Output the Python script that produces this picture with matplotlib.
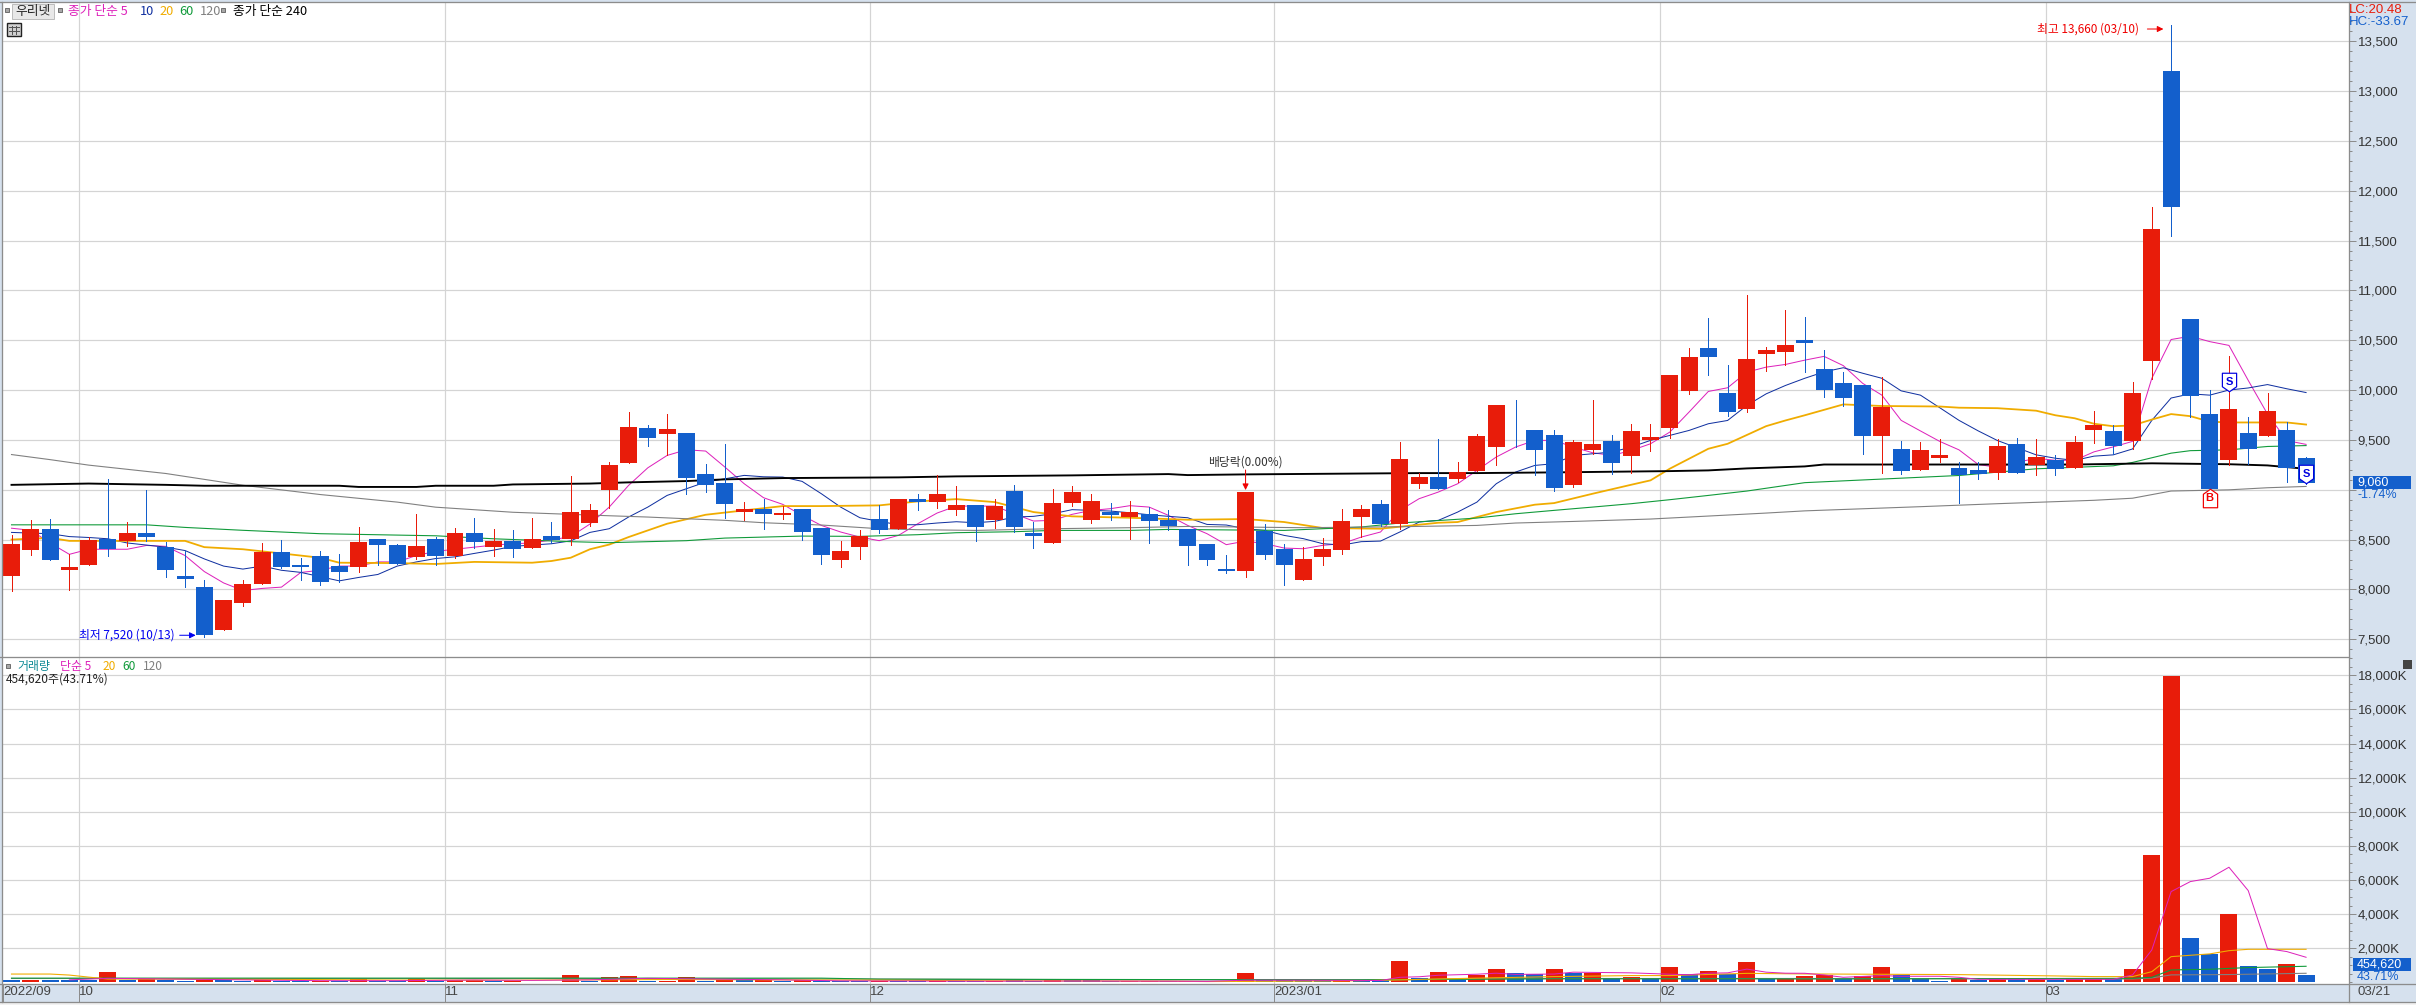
import matplotlib

matplotlib.use("Agg")

import matplotlib.pyplot as plt
from matplotlib.lines import Line2D
from matplotlib.patches import Rectangle
from matplotlib.path import Path
from matplotlib.ticker import FuncFormatter, MultipleLocator

W, H = 2416, 1005
KR = ["Noto Sans CJK KR", "DejaVu Sans"]
NARROW = ["Liberation Sans Narrow", "Liberation Sans", "DejaVu Sans"]
plt.rcParams["font.family"] = KR

RED = "#E81C0A"
BLUE = "#135FCC"
MAGENTA = "#DD22BB"
NAVY = "#1030A0"
ORANGE = "#F0AC00"
GREEN = "#109A3A"
GRAY = "#808080"
GRID = "#D4D4D4"
STRIP = "#D6E1EE"
BORDER = "#8C8C8C"

# candles, 2022/09/27 .. 2023/03/21
candle_side = list(
    "RRBRRBRBBBBRRRBBBBRBBRBRBRBRBRR"
    "RRBRBBBRBRBBRRBRBRRBRBBRRRBRBBB"
    "BBRBBRRRRBRRBRRRBBBRRBRRRRBBRRR"
    "BBBBRBRRBBRBRBRRBRRBBBRBRBB"
)
body_top = [
    8458, 8606, 8606, 8226, 8496, 8504, 8568, 8568, 8424, 8137,
    8023, 7896, 8057, 8378, 8378, 8247, 8335, 8234, 8475, 8504,
    8445, 8437, 8504, 8568, 8568, 8487, 8487, 8504, 8538, 8779,
    8796, 9244, 9625, 9615, 9605, 9565, 9154, 9063, 8803, 8803,
    8763, 8803, 8612, 8382, 8532, 8703, 8903, 8903, 8953, 8843,
    8843, 8833, 8983, 8562, 8863, 8973, 8883, 8773, 8773, 8753,
    8693, 8602, 8459, 8201, 8973, 8582, 8402, 8301, 8402, 8682,
    8803, 8853, 9304, 9124, 9124, 9174, 9535, 9846, 9592, 9595,
    9545, 9475, 9455, 9485, 9585, 9525, 10156, 10327, 10417, 9966,
    10307, 10397, 10447, 10507, 10207, 10068, 10055, 9835, 9405, 9396,
    9350, 9223, 9202, 9434, 9455, 9333, 9295, 9476, 9654, 9586,
    9975, 11613, 13196, 10709, 9755, 9814, 9565, 9785, 9603, 9316,
]
body_bottom = [
    8137, 8394, 8297, 8196, 8247, 8403, 8487, 8525, 8196, 8103,
    7541, 7592, 7862, 8057, 8226, 8221, 8074, 8175, 8226, 8445,
    8255, 8327, 8335, 8331, 8475, 8424, 8407, 8416, 8500, 8504,
    8665, 8993, 9264, 9515, 9555, 9114, 9043, 8853, 8773, 8753,
    8743, 8572, 8342, 8291, 8422, 8592, 8602, 8873, 8873, 8793,
    8622, 8693, 8622, 8532, 8462, 8863, 8693, 8743, 8723, 8683,
    8632, 8432, 8291, 8181, 8181, 8342, 8241, 8091, 8322, 8392,
    8723, 8652, 8652, 9053, 9003, 9104, 9184, 9424, 9585, 9394,
    9013, 9043, 9394, 9264, 9334, 9495, 9615, 9986, 10327, 9775,
    9805, 10357, 10377, 10473, 9996, 9924, 9544, 9544, 9185, 9194,
    9316, 9143, 9156, 9172, 9172, 9244, 9210, 9223, 9595, 9443,
    9485, 10287, 11841, 9945, 9012, 9303, 9405, 9544, 9223, 9067,
]
high = [
    8542, 8698, 8707, 8356, 8530, 9108, 8673, 9002, 8475, 8382,
    8095, 7896, 8095, 8466, 8496, 8314, 8386, 8356, 8627, 8504,
    8458, 8758, 8530, 8618, 8715, 8606, 8597, 8715, 8677, 9138,
    8859, 9274, 9775, 9645, 9755, 9565, 9254, 9455, 8873, 8903,
    8836, 8803, 8612, 8482, 8592, 8843, 8903, 8953, 9144, 9033,
    8843, 8903, 9043, 8672, 9003, 9033, 8953, 8863, 8883, 8823,
    8793, 8602, 8459, 8342, 8973, 8659, 8452, 8422, 8512, 8803,
    8843, 8893, 9475, 9164, 9505, 9274, 9555, 9846, 9896, 9595,
    9595, 9495, 9896, 9545, 9655, 9655, 10156, 10417, 10718, 10247,
    10958, 10427, 10808, 10730, 10405, 10177, 10055, 10131, 9485, 9476,
    9506, 9282, 9282, 9506, 9523, 9506, 9346, 9536, 9785, 9654,
    10076, 11841, 13660, 10709, 9996, 10338, 9730, 9975, 9683, 9325,
]
low = [
    7985, 8348, 8297, 7993, 8247, 8331, 8437, 8487, 8124, 8027,
    7520, 7592, 7829, 8057, 8213, 8095, 8044, 8074, 8179, 8247,
    8255, 8310, 8247, 8314, 8416, 8335, 8327, 8416, 8466, 8445,
    8635, 8813, 9264, 9434, 9344, 8953, 8973, 8713, 8696, 8602,
    8703, 8492, 8251, 8221, 8302, 8562, 8602, 8793, 8813, 8743,
    8482, 8612, 8572, 8412, 8462, 8833, 8662, 8693, 8502, 8462,
    8592, 8241, 8241, 8161, 8121, 8301, 8041, 8091, 8241, 8352,
    8522, 8632, 8602, 9013, 9003, 9074, 9184, 9244, 9424, 9144,
    8983, 9023, 9354, 9154, 9164, 9384, 9515, 9956, 10156, 9735,
    9775, 10196, 10247, 10182, 9928, 9840, 9362, 9172, 9155, 9194,
    9274, 8864, 9105, 9105, 9172, 9143, 9143, 9223, 9464, 9358,
    9409, 10106, 11541, 9726, 9012, 9253, 9261, 9544, 9075, 9060,
]

# price moving averages, read at each candle
ma5 = [
    8614, 8593, 8466, 8352, 8403, 8403, 8403, 8441, 8432, 8340,
    8179, 8065, 7989, 8010, 8023, 8170, 8192, 8234, 8234, 8276,
    8276, 8340, 8382, 8403, 8424, 8445, 8458, 8466, 8496, 8530,
    8656, 8826, 9043, 9220, 9344, 9401, 9388, 9227, 9060, 8920,
    8853, 8743, 8642, 8576, 8525, 8489, 8542, 8659, 8766, 8836,
    8836, 8836, 8759, 8686, 8693, 8753, 8793, 8810, 8840, 8826,
    8743, 8642, 8559, 8449, 8485, 8459, 8415, 8408, 8442, 8459,
    8525, 8576, 8793, 8910, 8977, 9060, 9194, 9328, 9428, 9495,
    9495, 9428, 9371, 9344, 9394, 9461, 9578, 9779, 9986, 10023,
    10180, 10230, 10257, 10300, 10338, 10245, 10068, 9949, 9696, 9590,
    9485, 9400, 9253, 9225, 9274, 9316, 9295, 9295, 9380, 9430,
    9485, 10118, 10507, 10540, 10486, 10448, 10097, 9759, 9493, 9455,
]
ma10 = [
    8572, 8565, 8559, 8530, 8521, 8508, 8466, 8445, 8424, 8390,
    8306, 8234, 8204, 8234, 8192, 8171, 8128, 8086, 8120, 8150,
    8234, 8276, 8310, 8327, 8361, 8394, 8432, 8445, 8458, 8487,
    8572, 8609, 8726, 8826, 8943, 9010, 9077, 9110, 9144, 9130,
    9127, 9084, 8960, 8826, 8719, 8683, 8649, 8649, 8666, 8679,
    8669, 8683, 8726, 8733, 8759, 8800, 8793, 8786, 8769, 8749,
    8733, 8719, 8652, 8646, 8609, 8592, 8542, 8509, 8459, 8445,
    8479, 8485, 8576, 8676, 8693, 8776, 8876, 9060, 9177, 9244,
    9261, 9344, 9361, 9378, 9428, 9495, 9545, 9595, 9662, 9695,
    9846, 9962, 10046, 10118, 10182, 10224, 10169, 10118, 9992, 9949,
    9823, 9696, 9590, 9493, 9422, 9350, 9316, 9295, 9337, 9350,
    9409, 9696, 9920, 9962, 9949, 10000, 10021, 10055, 10013, 9975,
]

# slower averages, read at the points where they bend
ma20_at = [
    0, 2, 3, 9, 10, 12, 14, 16, 17, 20, 22, 24, 27, 28, 29, 30, 31, 32, 34, 36, 38, 40,
    42, 45, 47, 49, 51, 53, 55, 58, 61, 64, 66, 68, 71, 74, 75, 77, 79, 80, 82, 84, 85,
    86, 88, 89, 91, 92, 93, 95, 97, 100, 101, 103, 105, 106, 107, 108, 109, 110, 111,
    112, 113, 114, 115, 117, 118, 119,
]
ma20 = [
    8500, 8517, 8487, 8487, 8424, 8403, 8361, 8318, 8268, 8264, 8255, 8276, 8268, 8285,
    8318, 8403, 8450, 8525, 8659, 8749, 8793, 8836, 8836, 8843, 8883, 8906, 8876, 8776,
    8733, 8719, 8699, 8706, 8676, 8616, 8609, 8669, 8676, 8776, 8850, 8866, 8960, 9050,
    9094, 9211, 9411, 9461, 9638, 9695, 9747, 9856, 9840, 9835, 9823, 9818, 9793, 9747,
    9717, 9662, 9637, 9645, 9704, 9759, 9738, 9683, 9675, 9675, 9675, 9654,
]
ma60_at = [
    0, 7, 9, 12, 16, 22, 25, 29, 31, 35, 37, 39, 41, 44, 47, 49, 52, 54, 58, 60, 66, 70,
    72, 76, 78, 80, 82, 84, 86, 88, 90, 92, 93, 101, 105, 109, 110, 112, 113, 115, 117, 119,
]
ma60 = [
    8648, 8648, 8622, 8593, 8559, 8538, 8508, 8479, 8469, 8489, 8515, 8525, 8535, 8532,
    8549, 8569, 8579, 8592, 8592, 8602, 8592, 8626, 8666, 8716, 8759, 8793, 8826, 8860,
    8900, 8943, 8987, 9043, 9071, 9143, 9210, 9240, 9274, 9367, 9392, 9400, 9434, 9443,
]
ma120_at = [
    0, 2, 4, 8, 12, 16, 20, 22, 26, 29, 31, 33, 35, 37, 39, 42, 45, 47, 50, 54, 58, 61,
    67, 72, 76, 78, 81, 85, 87, 91, 93, 99, 103, 108, 110, 112, 115, 117, 119,
]
ma120 = [
    9353, 9302, 9247, 9163, 9045, 8952, 8876, 8825, 8774, 8753, 8739, 8726, 8709, 8693,
    8669, 8646, 8609, 8599, 8592, 8609, 8619, 8632, 8619, 8629, 8642, 8666, 8682, 8706,
    8726, 8766, 8788, 8830, 8860, 8894, 8915, 8987, 8999, 9020, 9033,
]
ma240_at = [
    0, 4, 8, 10, 17, 18, 21, 22, 25, 26, 30, 32, 35, 37, 40, 46, 49, 55, 60, 61, 64, 73,
    76, 80, 86, 88, 90, 93, 94, 107, 111, 115, 117, 119,
]
ma240 = [
    9049, 9062, 9049, 9040, 9040, 9028, 9028, 9040, 9040, 9053, 9062, 9074, 9087, 9104,
    9117, 9124, 9134, 9144, 9157, 9147, 9154, 9167, 9167, 9174, 9187, 9194, 9214, 9234,
    9253, 9253, 9265, 9256, 9244, 9210,
]

# volume, thousands of shares
volume_side = list(
    "BRBBBRBRBBRBBRBBRBRBBRBRRBRRBRB"
    "RRBRRBRBRBRBBBRBBRBBRBBRBBBRRBR"
    "BRRBBBBRBBRBRBRRBBRBRBRBRBRBRBR"
    "RRBRRBBBRBRBRBRRBRRRBBRBBRB"
)
volume = [
    156, 156, 156, 117, 117, 624, 156, 195, 156, 98,
    156, 117, 58, 156, 58, 58, 58, 58, 234, 58,
    58, 234, 98, 117, 117, 98, 98, 40, 40, 448,
    98, 332, 390, 98, 98, 332, 98, 156, 117, 156,
    98, 117, 58, 58, 58, 78, 58, 58, 58, 58,
    58, 58, 117, 58, 117, 117, 117, 58, 58, 58,
    58, 58, 40, 58, 565, 117, 117, 117, 117, 117,
    117, 117, 1267, 273, 624, 117, 448, 800, 565, 488,
    800, 565, 565, 215, 332, 215, 917, 507, 682, 507,
    1209, 215, 215, 380, 418, 203, 380, 906, 438, 203,
    86, 203, 145, 203, 203, 203, 145, 203, 203, 203,
    789, 7472, 17965, 2600, 1681, 4013, 965, 789, 1082, 454.62,
]
vol_ma5_at = [
    3, 5, 8, 12, 16, 20, 24, 27, 30, 33, 36, 40, 43, 50, 55, 60, 62, 64, 67, 71, 72, 73,
    74, 76, 77, 78, 80, 81, 84, 85, 86, 87, 88, 89, 90, 91, 92, 93, 94, 95, 97, 98, 100,
    101, 102, 109, 110, 111, 112, 113, 114, 115, 116, 117, 118, 119,
]
vol_ma5 = [
    150, 240, 200, 150, 100, 100, 140, 120, 150, 240, 200, 150, 90, 70, 80, 70, 60, 130,
    130, 110, 300, 330, 420, 480, 540, 470, 490, 600, 560, 520, 480, 450, 540, 560, 780,
    600, 540, 535, 438, 300, 400, 360, 360, 300, 180, 180, 438, 1905, 5322, 5910, 6105,
    6750, 5380, 1980, 1807, 1473,
]
vol_ma20_at = [
    0, 2, 3, 4, 5, 8, 15, 20, 26, 29, 31, 34, 45, 50, 60, 62, 64, 68, 70, 76, 80, 84, 86,
    90, 93, 101, 106, 108, 110, 111, 112, 114, 115, 116, 119,
]
vol_ma20 = [
    490, 490, 430, 310, 200, 190, 170, 140, 130, 150, 150, 170, 130, 100, 70, 50, 60, 80,
    100, 250, 340, 400, 400, 530, 496, 457, 380, 340, 340, 630, 1510, 1670, 1860, 1940,
    1940,
]
vol_ma60_at = [0, 42, 45, 70, 80, 90, 93, 110, 111, 112, 114, 116, 119]
vol_ma60 = [250, 250, 190, 150, 210, 210, 200, 240, 300, 730, 770, 870, 945]
vol_ma120_at = [0, 30, 44, 60, 72, 78, 93, 110, 111, 112, 115, 119]
vol_ma120 = [230, 230, 200, 150, 160, 230, 230, 200, 260, 440, 460, 535]

month_starts = [4, 23, 45, 66, 86, 106]
date_ticks = ["2022/09", "10", "11", "12", "2023/01", "02", "03"]

SIDE = {"R": RED, "B": BLUE}


def pane(left, top, right, bottom):
    return [left / W, 1 - bottom / H, (right - left) / W, (bottom - top) / H]


def px(n):
    # screen pixels to points
    return n * 0.72


fig = plt.figure(figsize=(W / 100, H / 100), dpi=100, facecolor=STRIP)
ax = fig.add_axes(pane(1.5, 2, 2348.5, 657))
vx = fig.add_axes(pane(1.5, 657, 2348.5, 984.3), sharex=ax)

xs = list(range(len(body_top)))
ax.set_xlim(-0.519, 121.2)
ax.set_ylim(7322, 13893)
vx.set_ylim(-111, 19072)

for a in (ax, vx):
    a.set_facecolor("white")
    for s in a.spines.values():
        s.set_visible(False)
    a.yaxis.tick_right()
    a.grid(axis="y", color=GRID, lw=px(1.2), zorder=0)
    a.set_axisbelow(True)
    a.tick_params(axis="y", which="major", length=px(7), width=px(1), color=BORDER, pad=px(2), labelcolor="#333333")
    a.tick_params(axis="y", which="minor", length=px(3), width=px(1), color=BORDER)
    for m in month_starts:
        a.axvline(m - 0.5, color=GRID, lw=px(1.2), zorder=0)

ax.set_yticks(range(7500, 13501, 500))
ax.yaxis.set_minor_locator(MultipleLocator(100))
# the 9,000 label sits behind the last-price box in the terminal
ax.yaxis.set_major_formatter(FuncFormatter(lambda v, _: "" if v == 9000 else f"{v:,.0f}"))
vx.set_yticks(range(2000, 18001, 2000))
vx.yaxis.set_minor_locator(MultipleLocator(500))
vx.yaxis.set_major_formatter(FuncFormatter(lambda v, _: f"{v:,.0f}K"))
for a in (ax, vx):
    for lab in a.get_yticklabels():
        lab.set_family(NARROW)
        lab.set_fontsize(9.5)

# moving averages sit under the candles
ax.plot(xs, ma5, color=MAGENTA, lw=px(1), zorder=2)
ax.plot(xs, ma10, color=NAVY, lw=px(1), zorder=2)
ax.plot(ma20_at, ma20, color=ORANGE, lw=px(1.8), zorder=2)
ax.plot(ma60_at, ma60, color=GREEN, lw=px(1.1), zorder=2)
ax.plot(ma120_at, ma120, color=GRAY, lw=px(1.1), zorder=2)
ax.plot(ma240_at, ma240, color="black", lw=px(1.9), zorder=2.5)

colors = [SIDE[c] for c in candle_side]
ax.vlines(xs, low, high, colors=colors, lw=px(1), zorder=3, antialiased=False)
ax.bar(
    xs,
    [t - b for t, b in zip(body_top, body_bottom)],
    bottom=body_bottom,
    width=0.88,
    color=colors,
    zorder=3,
    antialiased=False,
)

vx.bar(xs, volume, width=0.88, color=[SIDE[c] for c in volume_side], zorder=2, antialiased=False)
vx.plot(vol_ma120_at, vol_ma120, color=GRAY, lw=px(1.1), zorder=3)
vx.plot(vol_ma60_at, vol_ma60, color=GREEN, lw=px(1.1), zorder=3)
vx.plot(vol_ma20_at, vol_ma20, color=ORANGE, lw=px(1.1), zorder=3)
vx.plot(vol_ma5_at, vol_ma5, color=MAGENTA, lw=px(1), zorder=3)

# date strip under the volume pane
plt.setp(ax.get_xticklabels(), visible=False)
ax.tick_params(axis="x", length=0)
vx.set_xticks([-0.45] + [m - 0.5 for m in month_starts])
vx.set_xticklabels(date_ticks, family=NARROW, fontsize=9.5, color="#444444", ha="left")
vx.tick_params(axis="x", length=px(18), width=px(1), color=BORDER, pad=-px(16))

# overlay in screen pixels for the terminal chrome
ov = fig.add_axes([0, 0, 1, 1], zorder=10)
ov.set_xlim(0, W)
ov.set_ylim(H, 0)
ov.axis("off")


def label(x, y, s, color="black", size=8.5, family=KR, ha="left", **kw):
    ov.text(x, y, s, color=color, fontsize=size, family=family, ha=ha, va="center", **kw)


def box(x0, y0, x1, y1, fc, ec="none", lw=0.0):
    ov.add_patch(Rectangle((x0, y0), x1 - x0, y1 - y0, fc=fc, ec=ec, lw=lw))


def square(x, y):
    box(x - 2, y - 2, x + 2, y + 2, "#A8A8A8", "#707070", px(1))


# frame
box(0, 1002.3, W, H, "#F2F2F2")
for y in (2, 657, 984.3, 1002.3):
    ov.add_line(Line2D([0, W if y != 657 else 2348.5], [y, y], color=BORDER, lw=px(1.3)))
for x, y0, y1 in ((1.5, 2, 1002.3), (2348.5, 2, 1002.3)):
    ov.add_line(Line2D([x, x], [y0, y1], color=BORDER, lw=px(1.3)))

# price legend
square(7, 10)
box(12, 4, 54, 19, "#E8E8E8", "#BDBDBD", px(1))
label(33, 11, "우리넷", "#222222", 9.2, ha="center")
square(60, 10)
label(68, 11, "종가 단순 5", MAGENTA, 9.2)
label(140, 11, "10", NAVY, 9.2)
label(159, 11, "20", ORANGE, 9.2)
label(179, 11, "60", GREEN, 9.2)
label(200, 11, "120", GRAY, 9.2)
square(223, 10)
label(233, 11, "종가 단순 240", "black", 9.2)
box(7, 23, 21, 36, "#D0D0D0", "#222222", px(1.4))
for gx in (11.5, 16):
    ov.add_line(Line2D([gx, gx], [26, 34], color="#555555", lw=px(1)))
for gy in (27, 30.5):
    ov.add_line(Line2D([9, 19], [gy, gy], color="#555555", lw=px(1)))

# volume legend
square(7.5, 666)
label(17, 666, "거래량", "#108A96", 8.6)
label(60, 666, "단순 5", MAGENTA, 8.6)
label(103, 666, "20", ORANGE, 8.6)
label(122, 666, "60", GREEN, 8.6)
label(143, 666, "120", GRAY, 8.6)
label(6, 679, "454,620주(43.71%)", "#222222", 8.6)
box(2403, 660, 2412, 669, "#444444")

# axis read-outs
label(2349, 10, "LC:20.48", RED, 9.5, NARROW)
label(2349, 22, "HC:-33.67", BLUE, 9.5, NARROW)
box(2353, 476, 2411, 489, BLUE)
label(2357, 482, "9,060", "white", 9, NARROW)
label(2357, 495, "-1.74%", BLUE, 9, NARROW)
box(2353, 958, 2411, 971, BLUE)
label(2357, 964, "454,620", "white", 9, NARROW)
label(2357, 977, "43.71%", BLUE, 9, NARROW)
label(2357, 992, "03/21", "#444444", 9.5, NARROW)

# high / low / ex-dividend notes
arrow_red = dict(arrowstyle="-|>", color="#F00000", lw=px(1.0), mutation_scale=9, shrinkA=0, shrinkB=0)
arrow_blue = dict(arrowstyle="-|>", color="#0000F0", lw=px(1.0), mutation_scale=9, shrinkA=0, shrinkB=0)
ax.annotate("최고 13,660 (03/10)", xy=(112, 13622), xytext=(-px(32), 0), textcoords="offset points",
            fontsize=8.5, color="#F00000", ha="right", va="center")
ax.annotate("", xy=(112 - 0.4, 13622), xytext=(-px(16), 0), textcoords="offset points", arrowprops=arrow_red)
ax.annotate("최저 7,520 (10/13)", xy=(10, 7540), xytext=(-px(30), 0), textcoords="offset points",
            fontsize=8.5, color="#0000F0", ha="right", va="center")
ax.annotate("", xy=(10 - 0.45, 7540), xytext=(-px(16), 0), textcoords="offset points", arrowprops=arrow_blue)
ax.annotate("배당락(0.00%)", xy=(64, 9198), xytext=(0, px(8)), textcoords="offset points",
            fontsize=8.5, color="#333333", ha="center", va="center")
ax.annotate("", xy=(64, 8997), xytext=(64, 9198), arrowprops=arrow_red)

# buy / sell flags
flag_up = Path([(-1, -1.3), (1, -1.3), (1, 0.6), (0, 1.3), (-1, 0.6), (-1, -1.3)], closed=True)
flag_down = Path([(-1, 1.3), (1, 1.3), (1, -0.6), (0, -1.3), (-1, -0.6), (-1, 1.3)], closed=True)
for i, p, txt, mk, col in ((114, 8917, "B", flag_up, "#F00000"), (115, 10084, "S", flag_down, "#0000E0"), (119, 9158, "S", flag_down, "#0000E0")):
    ax.plot([i], [p], marker=mk, ms=px(18.5), mfc="white", mec=col, mew=px(1.2), zorder=5, ls="none")
    ax.text(i, p, txt, color=col, fontsize=8, fontweight="bold", ha="center", va="center", zorder=6, family=["Liberation Sans", "DejaVu Sans"])

fig.savefig("out.png", dpi=100, facecolor=fig.get_facecolor())
